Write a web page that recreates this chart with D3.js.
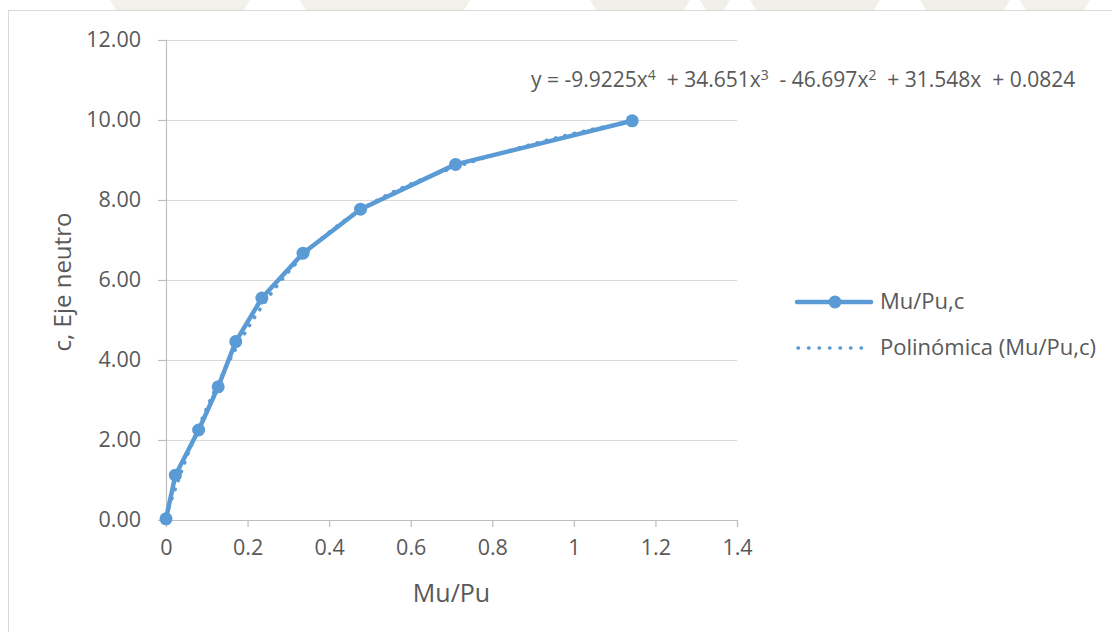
<!DOCTYPE html>
<html><head><meta charset="utf-8">
<script src="https://cdn.jsdelivr.net/npm/d3@7"></script>
<style>
html,body{margin:0;padding:0;background:#fff;}
svg{display:block;font-family:"Open Sans",sans-serif;}
</style></head>
<body>
<svg id="chart" width="1112" height="632"></svg>
<script>
// ---- data ----
const muPu = [0, 0.023, 0.080, 0.128, 0.171, 0.235, 0.336, 0.477, 0.710, 1.143];
const cVals = [0.03, 1.12, 2.25, 3.33, 4.46, 5.55, 6.67, 7.77, 8.89, 9.98];
const polyCoef = [0.0824, 31.548, -46.697, 34.651, -9.9225]; // a0..a4 (from trendline label)
const xTickVals = [0, 0.2, 0.4, 0.6, 0.8, 1, 1.2, 1.4];
const xTickLabels = ["0", "0.2", "0.4", "0.6", "0.8", "1", "1.2", "1.4"];
const yTickVals = [0, 2, 4, 6, 8, 10, 12];
const yTickLabels = ["0.00", "2.00", "4.00", "6.00", "8.00", "10.00", "12.00"];
const seriesName = "Mu/Pu,c";
const trendName = "Polinómica (Mu/Pu,c)";
const xTitle = "Mu/Pu";
const yTitle = "c, Eje neutro";

const svg = d3.select("#chart");
const blue = "#5b9bd5", txt = "#595959", grid = "#d9d9d9";

// faint watermark strip above chart frame
const wm = svg.append("g").attr("opacity", 0.4);
[[110,250],[300,470],[590,690],[700,730],[750,880],[920,1010],[1020,1090]].forEach(([a,b]) => {
  wm.append("path").attr("d", `M${a},0 L${b},0 L${b-6},10 L${a+6},10 Z`).attr("fill", "#dcdcc8");
});

// chart frame
svg.append("rect").attr("x", 8.5).attr("y", 10.5).attr("width", 1120).attr("height", 640)
  .attr("fill", "#fff").attr("stroke", "#d9d9d9");

const x = d3.scaleLinear().domain([0, 1.4]).range([166, 737]);
const y = d3.scaleLinear().domain([0, 12]).range([520, 40]);

// gridlines
svg.append("g").selectAll("line").data(yTickVals.filter(v => v > 0)).join("line")
  .attr("x1", x(0)).attr("x2", x(1.4)).attr("y1", d => Math.round(y(d)) + 0.5).attr("y2", d => Math.round(y(d)) + 0.5)
  .attr("stroke", grid).attr("stroke-width", 1.2);

// y axis
const yAxis = svg.append("g").attr("transform", `translate(${x(0)},0)`)
  .call(d3.axisLeft(y).tickValues(yTickVals).tickFormat((d, i) => yTickLabels[i]).tickSize(8).tickPadding(17));
yAxis.select(".domain").attr("stroke", "#bfbfbf").attr("stroke-width", 1.2);
yAxis.selectAll(".tick line").attr("stroke", "#bfbfbf").attr("stroke-width", 1.2);
yAxis.selectAll(".tick text").attr("fill", txt).style("font-size", "21.5px").style("font-family", "Open Sans");

// x axis
const xAxis = svg.append("g").attr("transform", `translate(0,${y(0)})`)
  .call(d3.axisBottom(x).tickValues(xTickVals).tickFormat((d, i) => xTickLabels[i]).tickSize(7).tickPadding(13));
xAxis.select(".domain").attr("stroke", "#bfbfbf").attr("stroke-width", 1.2);
xAxis.selectAll(".tick line").attr("stroke", "#bfbfbf").attr("stroke-width", 1.2);
xAxis.selectAll(".tick text").attr("fill", txt).style("font-size", "21.5px").style("font-family", "Open Sans");

// axis titles
svg.append("text").attr("x", (x(0) + x(1.4)) / 2).attr("y", 602).attr("text-anchor", "middle")
  .attr("fill", txt).style("font-size", "25px").text(xTitle);
svg.append("text").attr("transform", `translate(71,282) rotate(-90)`).attr("text-anchor", "middle")
  .attr("fill", txt).style("font-size", "24px").text(yTitle);

// trendline (polynomial from label coefficients)
const poly = v => polyCoef.reduce((s, a, k) => s + a * Math.pow(v, k), 0);
const xmax = d3.max(muPu);
const trendPts = d3.range(0, 201).map(i => [xmax * i / 200, poly(xmax * i / 200)]);
const lineGen = d3.line().x(d => x(d[0])).y(d => y(d[1]));
svg.append("path").datum(trendPts).attr("d", lineGen).attr("fill", "none")
  .attr("stroke", blue).attr("stroke-width", 3.5).attr("stroke-linecap", "round").attr("stroke-dasharray", "0.5 9");

// series
const pts = muPu.map((v, i) => [v, cVals[i]]);
svg.append("path").datum(pts).attr("d", lineGen).attr("fill", "none")
  .attr("stroke", blue).attr("stroke-width", 4.5).attr("stroke-linejoin", "round");
svg.append("g").selectAll("circle").data(pts).join("circle")
  .attr("cx", d => x(d[0])).attr("cy", d => y(d[1])).attr("r", 6.5).attr("fill", blue);

// equation label
const eq = svg.append("text").attr("x", 531).attr("y", 87).attr("fill", txt).style("font-size", "21px");
const parts = [["y = -9.9225x", false], ["4", true], ["  + 34.651x", false], ["3", true], ["  - 46.697x", false], ["2", true], ["  + 31.548x  + 0.0824", false]];
parts.forEach(([t, sup]) => {
  const ts = eq.append("tspan").text(t).attr("xml:space", "preserve").style("white-space", "pre");
  if (sup) ts.attr("dy", -7).style("font-size", "14px");
  else ts.attr("dy", eq.selectAll("tspan").size() > 1 ? 7 : 0);
});

// legend
const lg = svg.append("g");
lg.append("line").attr("x1", 797).attr("x2", 871).attr("y1", 302).attr("y2", 302)
  .attr("stroke", blue).attr("stroke-width", 4.5).attr("stroke-linecap", "round");
lg.append("circle").attr("cx", 835).attr("cy", 302).attr("r", 6.5).attr("fill", blue);
lg.append("text").attr("x", 880).attr("y", 309).attr("fill", txt).style("font-size", "22px").text(seriesName);
lg.append("line").attr("x1", 798).attr("x2", 866).attr("y1", 348).attr("y2", 348)
  .attr("stroke", blue).attr("stroke-width", 3.5).attr("stroke-linecap", "round").attr("stroke-dasharray", "0.5 10");
lg.append("text").attr("x", 880).attr("y", 355).attr("fill", txt).style("font-size", "22px").text(trendName);
</script>
</body></html>
